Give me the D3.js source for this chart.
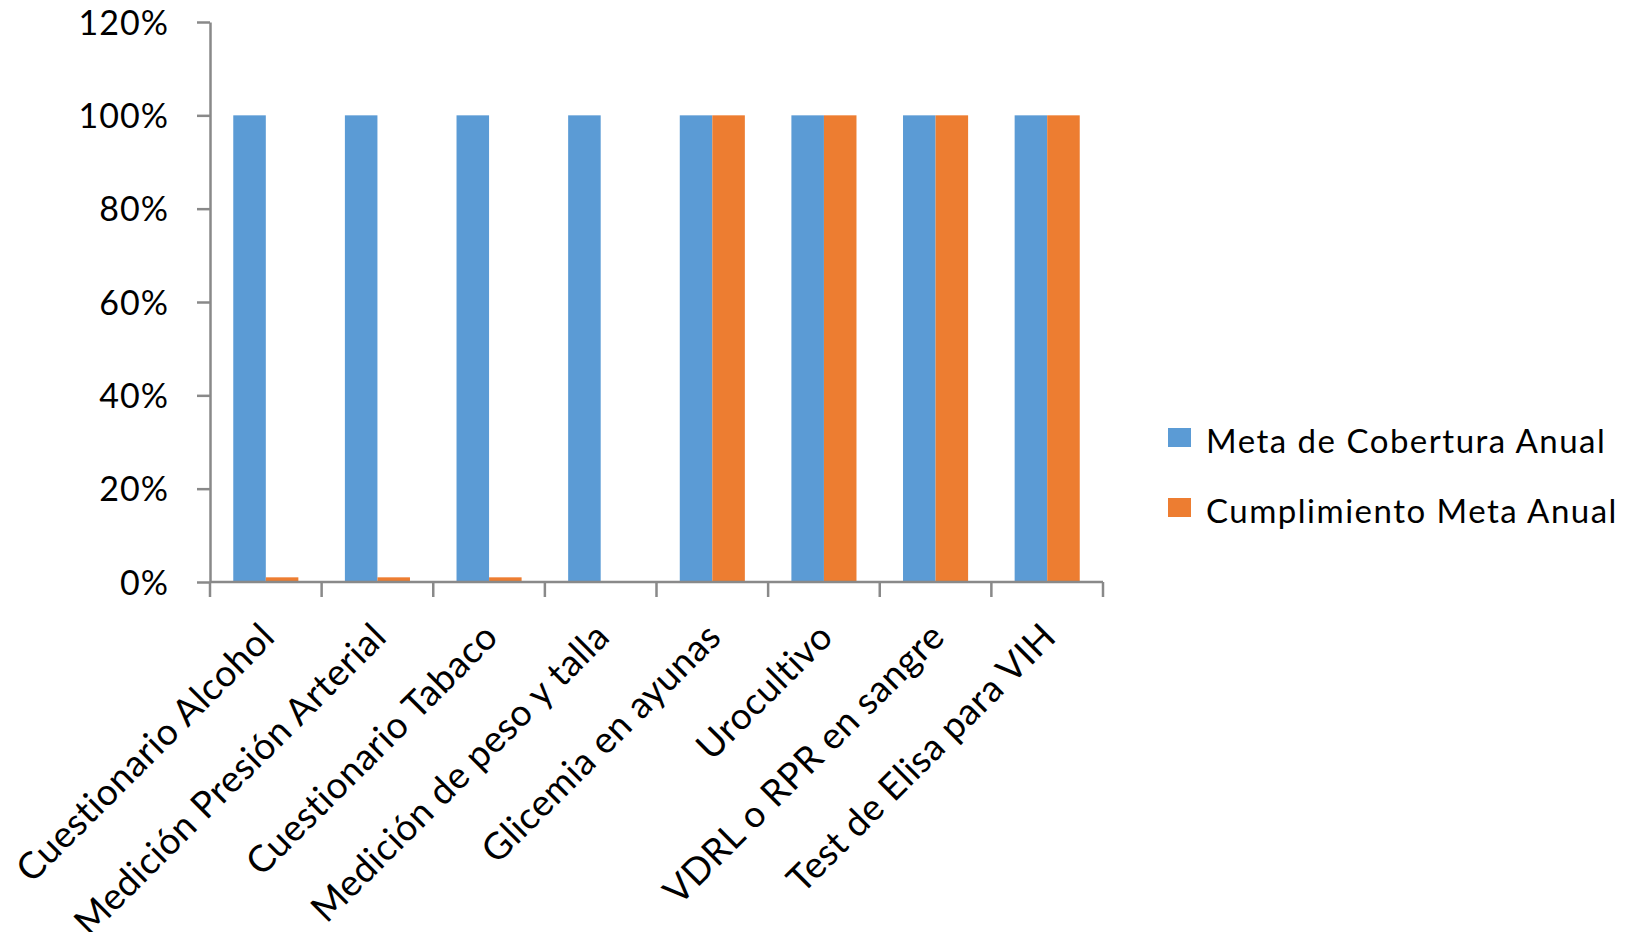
<!DOCTYPE html>
<html>
<head>
<meta charset="utf-8">
<script src="https://cdn.jsdelivr.net/npm/d3@7"></script>
<style>
  html, body { margin: 0; padding: 0; background: #ffffff; }
  svg { display: block; }
  text { font-family: Lato, "Open Sans", "Liberation Sans", sans-serif; fill: #000; }
</style>
</head>
<body>
<svg id="chart" width="1638" height="932"></svg>
<script>
// ---- data ----
const categories = [
  "Cuestionario Alcohol",
  "Medición Presión Arterial",
  "Cuestionario Tabaco",
  "Medición de peso y talla",
  "Glicemia en ayunas",
  "Urocultivo",
  "VDRL o RPR en sangre",
  "Test de Elisa para VIH"
];
const seriesNames = ["Meta de Cobertura Anual", "Cumplimiento Meta Anual"];
const metaCobertura = [1, 1, 1, 1, 1, 1, 1, 1];
const cumplimiento = [0.01, 0.01, 0.01, 0.002, 1, 1, 1, 1];
const yTickValues = [0, 0.2, 0.4, 0.6, 0.8, 1.0, 1.2];
const colors = ["#5B9BD5", "#ED7D31"];

// ---- layout ----
const svg = d3.select("#chart");
const plotLeft = 210, plotRight = 1103, plotTop = 22, plotBottom = 582;
const axisColor = "#898989";

const x = d3.scaleBand().domain(categories).range([plotLeft, plotRight]).paddingInner(0).paddingOuter(0);
const xInner = d3.scaleBand().domain(seriesNames).range([0, x.bandwidth()]).paddingInner(0).paddingOuter(0.715);
const y = d3.scaleLinear().domain([0, 1.2]).range([plotBottom, plotTop]);

const seriesData = [metaCobertura, cumplimiento];

// bars
seriesNames.forEach((s, si) => {
  svg.append("g").selectAll("rect")
    .data(categories.map((c, i) => ({ c, v: seriesData[si][i] })))
    .join("rect")
    .attr("x", d => x(d.c) + xInner(s))
    .attr("width", xInner.bandwidth())
    .attr("y", d => y(d.v))
    .attr("height", d => y(0) - y(d.v))
    .attr("fill", colors[si]);
});

// y axis
const yAxis = d3.axisLeft(y)
  .tickValues(yTickValues)
  .tickFormat(d3.format(".0%"))
  .tickSize(13)
  .tickSizeOuter(0)
  .tickPadding(28);
const gy = svg.append("g").attr("transform", `translate(${plotLeft},0)`).call(yAxis);
gy.select(".domain").attr("stroke", axisColor).attr("stroke-width", 2.5);
gy.selectAll(".tick line").attr("stroke", axisColor).attr("stroke-width", 2.5);
gy.selectAll(".tick text")
  .attr("font-size", 34)
  .attr("letter-spacing", "1px")
  .attr("font-family", 'Lato, "Open Sans", sans-serif')
  .attr("fill", "#000")
  .attr("dy", "0.36em");

// x axis line + boundary ticks
const boundaries = categories.map(c => x(c)).concat([x.range()[1]]);
const gx = svg.append("g");
gx.append("line")
  .attr("x1", plotLeft).attr("x2", plotRight)
  .attr("y1", y(0)).attr("y2", y(0))
  .attr("stroke", axisColor).attr("stroke-width", 2.5);
gx.selectAll("line.tk").data(boundaries).join("line")
  .attr("class", "tk")
  .attr("x1", d => d).attr("x2", d => d)
  .attr("y1", y(0)).attr("y2", y(0) + 15)
  .attr("stroke", axisColor).attr("stroke-width", 2.5);

// x labels, rotated -45
gx.selectAll("text.xl").data(categories).join("text")
  .attr("class", "xl")
  .attr("text-anchor", "end")
  .attr("font-size", 37)
  .attr("letter-spacing", "0.5px")
  .attr("transform", c => `translate(${x(c) + x.bandwidth() / 2 + 11},${y(0) + 57}) rotate(-45)`)
  .text(c => c);

// legend
const legend = svg.append("g");
const legendY = [428, 498];
seriesNames.forEach((s, i) => {
  legend.append("rect")
    .attr("x", 1168).attr("y", legendY[i])
    .attr("width", 23).attr("height", 19)
    .attr("fill", colors[i]);
  legend.append("text")
    .attr("x", 1206).attr("y", legendY[i] + 25)
    .attr("font-size", 33)
    .attr("letter-spacing", "1.5px")
    .text(s);
});
</script>
</body>
</html>
